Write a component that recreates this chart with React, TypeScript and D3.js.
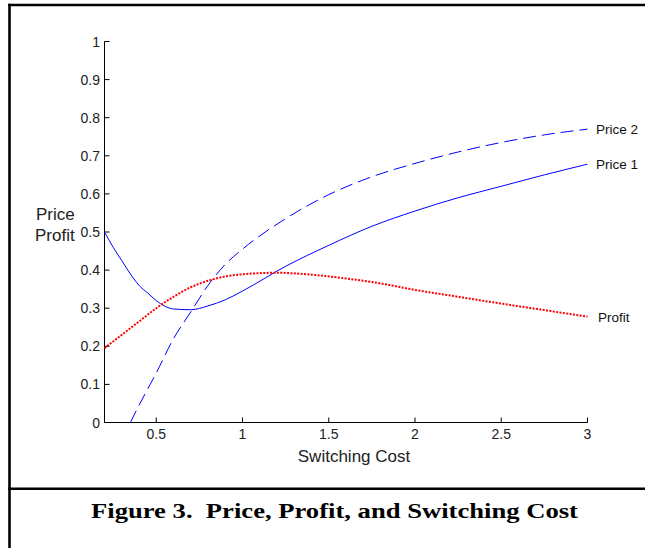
import React, { useEffect, useRef } from 'react';
import * as d3 from 'd3';

// switching cost grid for each curve
const price1X = [0.2, 0.25, 0.3, 0.35, 0.4, 0.45, 0.5, 0.55, 0.6, 0.7, 0.8, 0.9, 1, 1.25, 1.5, 1.75, 2, 2.25, 2.5, 2.75, 3];
const price1Y = [0.5, 0.46, 0.425, 0.39, 0.36, 0.34, 0.32, 0.305, 0.298, 0.296, 0.306, 0.322, 0.345, 0.41, 0.465, 0.515, 0.555, 0.59, 0.62, 0.65, 0.678];

const price2X = [0.35, 0.4, 0.5, 0.6, 0.7, 0.8, 0.9, 1, 1.25, 1.5, 1.75, 2, 2.25, 2.5, 2.75, 3];
const price2Y = [0, 0.045, 0.13, 0.22, 0.29, 0.36, 0.415, 0.455, 0.535, 0.598, 0.645, 0.68, 0.71, 0.735, 0.755, 0.77];

const profitX = [0.2, 0.3, 0.4, 0.5, 0.6, 0.7, 0.8, 0.9, 1, 1.2, 1.4, 1.6, 1.8, 2, 2.25, 2.5, 2.75, 3];
const profitY = [0.195, 0.23, 0.265, 0.3, 0.33, 0.355, 0.372, 0.383, 0.389, 0.393, 0.388, 0.378, 0.365, 0.348, 0.33, 0.312, 0.295, 0.278];

const xTicks = [0.5, 1, 1.5, 2, 2.5, 3];
const yTicks = [0, 0.1, 0.2, 0.3, 0.4, 0.5, 0.6, 0.7, 0.8, 0.9, 1];

const App = () => {
    const svgRef = useRef(null);

    useEffect(() => {
        const svg = d3.select(svgRef.current);
        svg.selectAll('*').remove();

        const xScale = d3.scaleLinear().domain([0.2, 3]).range([104.5, 587.5]);
        const yScale = d3.scaleLinear().domain([0, 1]).range([422.5, 41.5]);

        // frame around figure (right edge is cut off in the original)
        const frame = svg.append('g').attr('stroke', '#000').attr('stroke-width', 2.6);
        frame.append('line').attr('x1', 9.5).attr('x2', 9.5).attr('y1', 3.7).attr('y2', 548);
        frame.append('line').attr('x1', 8.2).attr('x2', 700).attr('y1', 5).attr('y2', 5);
        frame.append('line').attr('x1', 8.2).attr('x2', 700).attr('y1', 488.7).attr('y2', 488.7);

        const sans = 'Arial, "Liberation Sans", sans-serif';

        // axes (MATLAB style, ticks inside)
        const ax = svg.append('g').attr('stroke', '#000').attr('stroke-width', 1);
        ax.append('line').attr('x1', xScale(0.2)).attr('x2', xScale(3)).attr('y1', yScale(0)).attr('y2', yScale(0));
        ax.append('line').attr('x1', xScale(0.2)).attr('x2', xScale(0.2)).attr('y1', yScale(0)).attr('y2', yScale(1));
        ax.selectAll('.xt').data(xTicks).enter().append('line')
            .attr('x1', d => xScale(d)).attr('x2', d => xScale(d))
            .attr('y1', yScale(0)).attr('y2', yScale(0) - 5);
        ax.selectAll('.yt').data(yTicks).enter().append('line')
            .attr('x1', xScale(0.2)).attr('x2', xScale(0.2) + 5)
            .attr('y1', d => yScale(d)).attr('y2', d => yScale(d));

        svg.append('g').selectAll('text').data(xTicks).enter().append('text')
            .attr('x', d => xScale(d))
            .attr('y', yScale(0) + 16)
            .attr('text-anchor', 'middle')
            .attr('font-family', sans)
            .attr('font-size', 14)
            .attr('fill', '#222')
            .text(d => String(d));

        svg.append('g').selectAll('text').data(yTicks).enter().append('text')
            .attr('x', 100)
            .attr('y', d => yScale(d) + 5)
            .attr('text-anchor', 'end')
            .attr('font-family', sans)
            .attr('font-size', 14)
            .attr('fill', '#222')
            .text(d => String(d));

        svg.append('text')
            .attr('x', (xScale(0.2) + xScale(3)) / 2 + 8)
            .attr('y', 462)
            .attr('text-anchor', 'middle')
            .attr('font-family', sans)
            .attr('font-size', 17)
            .attr('fill', '#222')
            .text('Switching Cost');

        svg.append('text').attr('x', 36).attr('y', 220)
            .attr('font-family', sans).attr('font-size', 17).attr('fill', '#222').text('Price');
        svg.append('text').attr('x', 35).attr('y', 241)
            .attr('font-family', sans).attr('font-size', 17).attr('fill', '#222').text('Profit');

        const line = d3.line<[number, number]>()
            .x(d => xScale(d[0]))
            .y(d => yScale(d[1]))
            .curve(d3.curveMonotoneX);

        const series = [
            { xs: price1X, ys: price1Y, color: '#0000ff', width: 1, dash: null },
            { xs: price2X, ys: price2Y, color: '#0000ff', width: 1, dash: '13,6' },
            { xs: profitX, ys: profitY, color: '#ff0000', width: 2, dash: '2,1.4' },
        ];
        series.forEach(s => {
            const pts = s.xs.map((x, i) => [x, s.ys[i]] as [number, number]);
            svg.append('path')
                .attr('d', line(pts))
                .attr('fill', 'none')
                .attr('stroke', s.color)
                .attr('stroke-width', s.width)
                .attr('stroke-dasharray', s.dash);
        });

        const labels = [
            { text: 'Price 2', v: price2Y[price2Y.length - 1], x: 596 },
            { text: 'Price 1', v: price1Y[price1Y.length - 1], x: 596 },
            { text: 'Profit', v: profitY[profitY.length - 1], x: 598 },
        ];
        svg.append('g').selectAll('text').data(labels).enter().append('text')
            .attr('x', d => d.x)
            .attr('y', d => yScale(d.v) + 5)
            .attr('font-family', sans)
            .attr('font-size', 13.5)
            .attr('fill', '#111')
            .text(d => d.text);

        svg.append('text')
            .attr('x', 91)
            .attr('y', 518)
            .attr('font-family', '"Times New Roman", "Liberation Serif", serif')
            .attr('font-weight', 'bold')
            .attr('font-size', 22)
            .attr('textLength', 487)
            .attr('lengthAdjust', 'spacingAndGlyphs')
            .attr('fill', '#000')
            .style('white-space', 'pre')
            .text('Figure 3.  Price, Profit, and Switching Cost');
    }, []);

    return (
        <div style={{ position: 'fixed', left: 0, top: 0, width: 645, height: 548, background: '#fff', overflow: 'hidden' }}>
            <svg ref={svgRef} width={645} height={548} style={{ display: 'block' }}></svg>
        </div>
    );
};

export default App;
